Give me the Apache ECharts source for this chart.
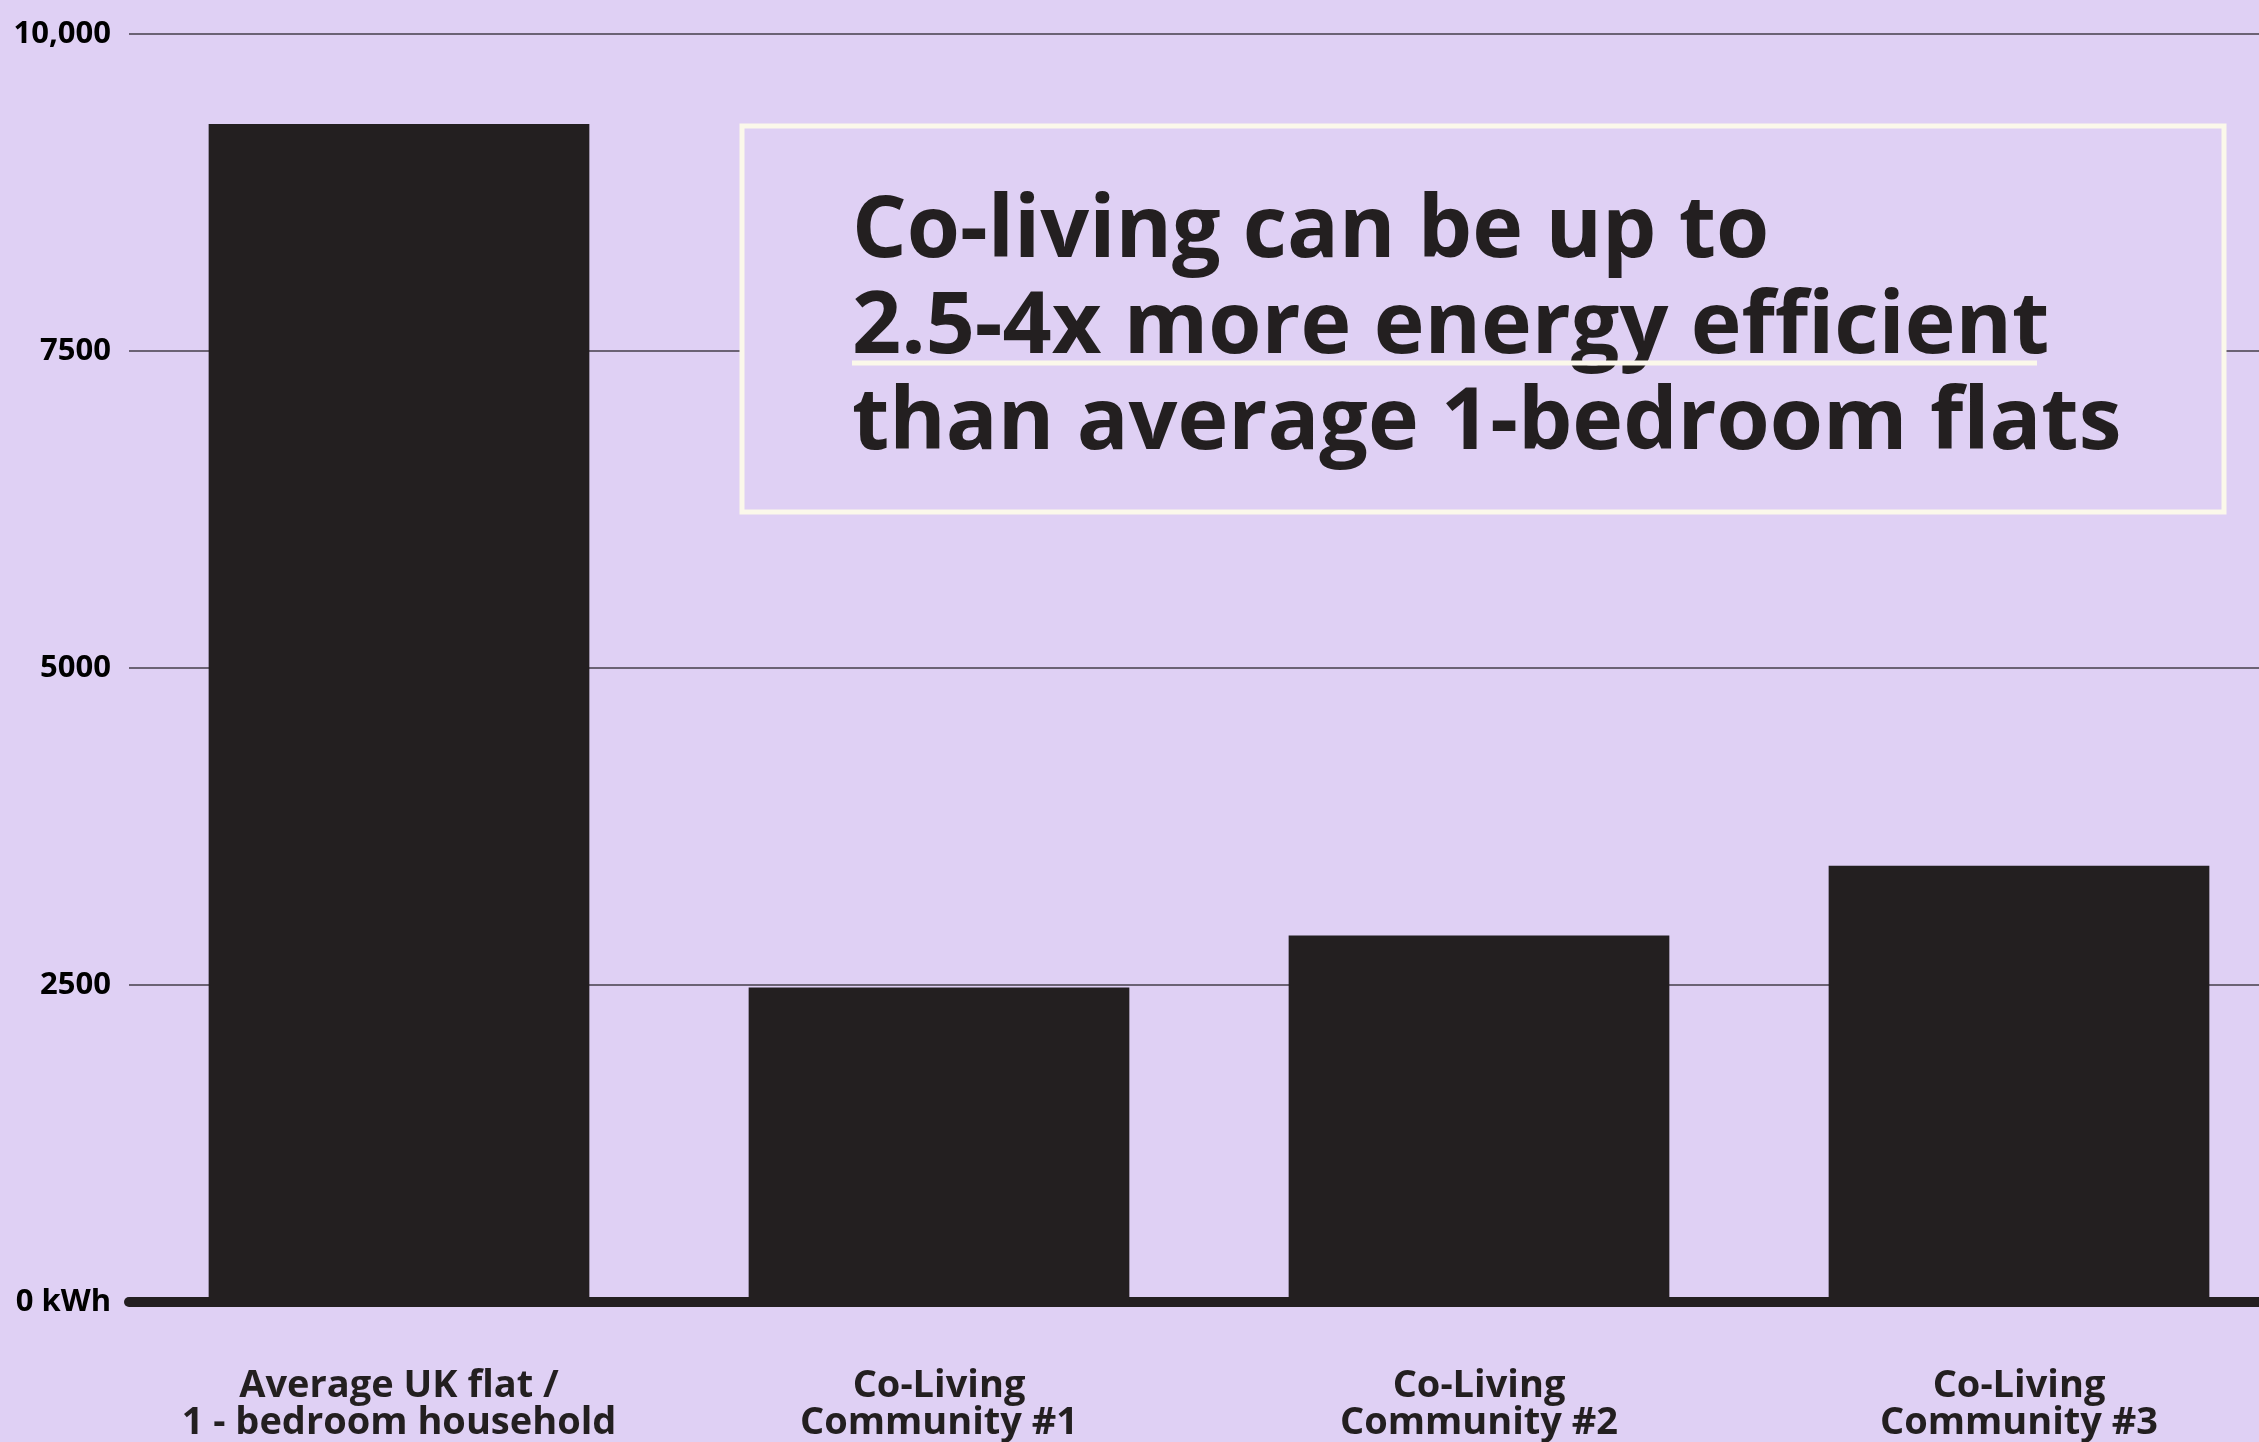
<!DOCTYPE html>
<html>
<head>
<meta charset="utf-8">
<script src="https://cdn.jsdelivr.net/npm/echarts@6/dist/echarts.min.js"></script>
<style>
  html, body { margin: 0; padding: 0; background: #dfd0f4; }
  #chart { width: 2259px; height: 1442px; }
</style>
</head>
<body>
<div id="chart"></div>
<script>
const categories = [
  'Average UK flat /\n1 - bedroom household',
  'Co-Living\nCommunity #1',
  'Co-Living\nCommunity #2',
  'Co-Living\nCommunity #3'
];
const energyKwh = [9290, 2480, 2890, 3440];
const tickLabels = { 0: '0 kWh', 2500: '2500', 5000: '5000', 7500: '7500', 10000: '10,000' };
const headline = ['Co-living can be up to', '2.5-4x more energy efficient', 'than average 1-bedroom flats'];

const ink = '#231f20';
const bg = '#dfd0f4';
const cream = '#fbf8ea';
const font = '"Open Sans", Lato, sans-serif';

const chart = echarts.init(document.getElementById('chart'));

const option = {
  backgroundColor: bg,
  animation: false,
  grid: { left: 129, top: 34, bottom: 140, width: 2160, outerBoundsMode: 'none' },
  xAxis: {
    type: 'category',
    data: categories,
    axisLine: { lineStyle: { color: ink, width: 10 } },
    axisTick: { show: false },
    axisLabel: {
      interval: 0,
      hideOverlap: false,
      margin: 66,
      color: ink,
      fontFamily: font,
      fontWeight: 'bold',
      fontSize: 38,
      lineHeight: 37
    }
  },
  yAxis: {
    type: 'value',
    min: 0,
    max: 10000,
    interval: 2500,
    axisLine: { show: false },
    axisTick: { show: false },
    axisLabel: {
      margin: 18,
      color: '#000',
      fontFamily: font,
      fontWeight: 'bold',
      fontSize: 31,
      formatter: v => tickLabels[v]
    },
    splitLine: { lineStyle: { color: '#453e4a', width: 1.5 } }
  },
  series: [{
    type: 'bar',
    data: energyKwh,
    barWidth: '70.5%',
    itemStyle: { color: ink }
  }],
  graphic: [
    {
      type: 'rect',
      shape: { x: 742, y: 126, width: 1482, height: 386 },
      style: { fill: bg, stroke: cream, lineWidth: 5 },
      z: 10
    },
    {
      type: 'text',
      x: 852,
      y: 184,
      style: {
        text: headline.join('\n'),
        fill: ink,
        font: 'bold 86px ' + font,
        lineHeight: 96
      },
      z: 11
    },
    {
      type: 'line',
      shape: { x1: 852, y1: 363, x2: 2037, y2: 363 },
      style: { stroke: cream, lineWidth: 5 },
      z: 11
    }
  ]
};

chart.setOption(option);
</script>
</body>
</html>
